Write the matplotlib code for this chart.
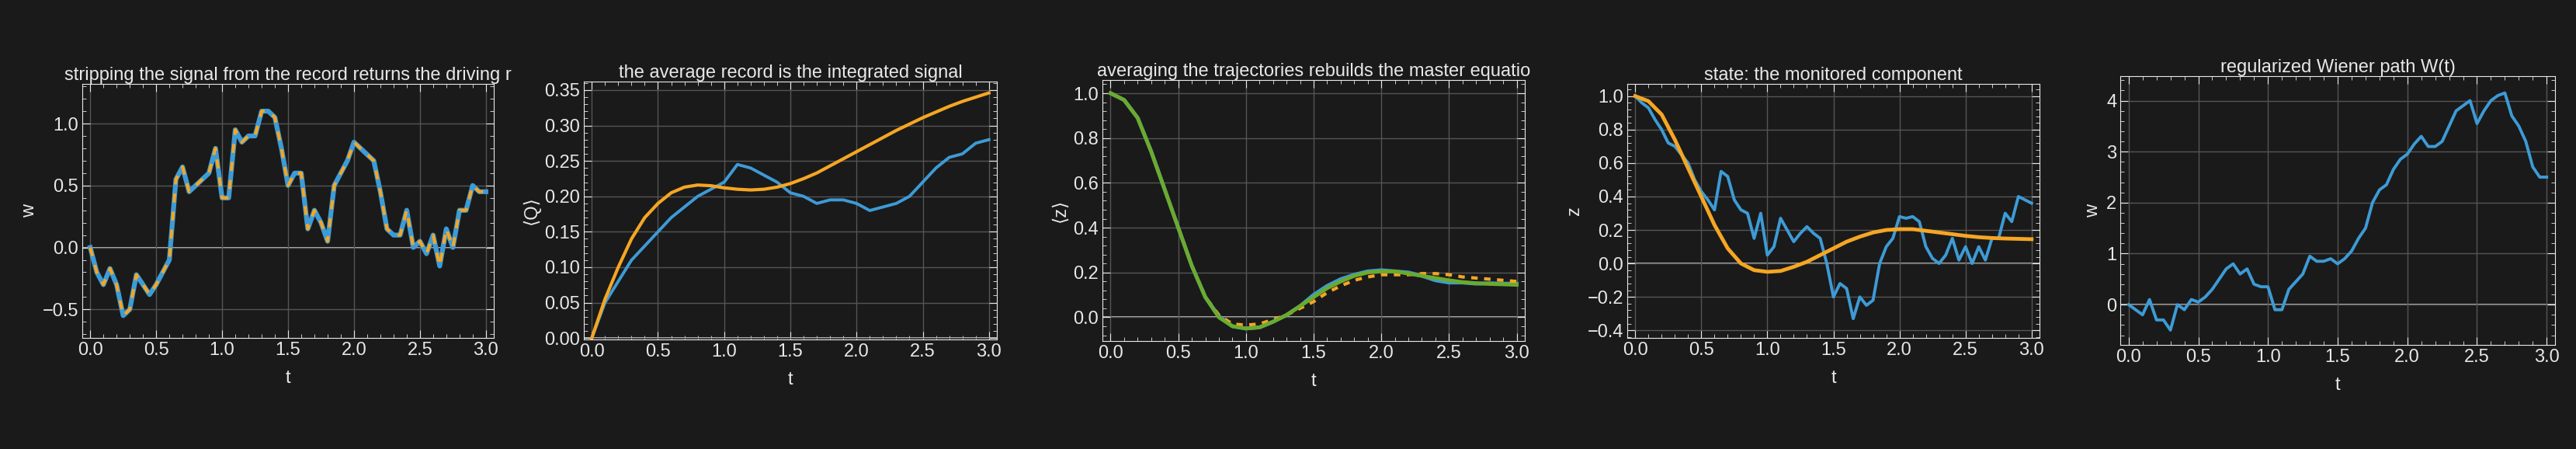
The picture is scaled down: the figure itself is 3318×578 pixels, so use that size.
import numpy as np
import matplotlib
matplotlib.use("Agg")
import matplotlib.pyplot as plt
from matplotlib.ticker import AutoMinorLocator

t = np.round(np.arange(0, 3.0001, 0.05), 2)

w1 = [0, -0.2, -0.3, -0.17, -0.3, -0.55, -0.5, -0.22, -0.3, -0.38, -0.3, -0.2, -0.1, 0.55, 0.65, 0.45,
      0.5, 0.55, 0.6, 0.8, 0.4, 0.4, 0.95, 0.85, 0.9, 0.9, 1.1, 1.1, 1.05, 0.8, 0.5, 0.6, 0.6, 0.15,
      0.3, 0.2, 0.05, 0.5, 0.6, 0.7, 0.85, 0.8, 0.75, 0.7, 0.45, 0.15, 0.1, 0.1, 0.3, 0.0, 0.05, -0.05,
      0.1, -0.15, 0.15, 0.0, 0.3, 0.3, 0.5, 0.45, 0.45]

t2 = [0, 0.1, 0.2, 0.3, 0.4, 0.5, 0.6, 0.7, 0.8, 0.9, 1.0, 1.1, 1.2, 1.3, 1.4, 1.5, 1.6, 1.7, 1.8, 1.9,
      2.0, 2.1, 2.2, 2.3, 2.4, 2.5, 2.6, 2.7, 2.8, 2.9, 3.0]
q_mean = [0, 0.055, 0.1, 0.14, 0.17, 0.19, 0.205, 0.213, 0.216, 0.215, 0.212, 0.21, 0.209, 0.21, 0.213,
          0.218, 0.225, 0.233, 0.243, 0.253, 0.263, 0.273, 0.283, 0.293, 0.302, 0.311, 0.319, 0.327,
          0.334, 0.34, 0.346]
q_rec = [0, 0.05, 0.08, 0.11, 0.13, 0.15, 0.17, 0.185, 0.2, 0.21, 0.22, 0.245, 0.24, 0.23, 0.22, 0.205,
         0.2, 0.19, 0.195, 0.195, 0.19, 0.18, 0.185, 0.19, 0.2, 0.22, 0.24, 0.255, 0.26, 0.275, 0.28]

z_me = [1.0, 0.97, 0.89, 0.74, 0.57, 0.4, 0.23, 0.09, 0.0, -0.04, -0.05, -0.045, -0.02, 0.01, 0.05,
        0.09, 0.13, 0.16, 0.185, 0.2, 0.205, 0.205, 0.195, 0.185, 0.175, 0.165, 0.157, 0.152, 0.149,
        0.147, 0.145]
z_avg = [1.0, 0.97, 0.89, 0.74, 0.57, 0.4, 0.23, 0.09, 0.005, -0.04, -0.05, -0.045, -0.02, 0.01, 0.05,
         0.1, 0.14, 0.17, 0.19, 0.205, 0.21, 0.205, 0.2, 0.185, 0.165, 0.155, 0.155, 0.15, 0.152,
         0.15, 0.15]
z_dash = [1.0, 0.97, 0.89, 0.74, 0.57, 0.4, 0.23, 0.09, 0.01, -0.03, -0.035, -0.03, -0.01, 0.01, 0.04,
          0.07, 0.11, 0.14, 0.165, 0.18, 0.19, 0.19, 0.19, 0.195, 0.195, 0.19, 0.18, 0.175, 0.17,
          0.165, 0.16]

z_traj = [1.0, 0.96, 0.93, 0.86, 0.8, 0.72, 0.7, 0.65, 0.6, 0.5, 0.43, 0.38, 0.32, 0.55, 0.52, 0.38,
          0.32, 0.3, 0.15, 0.3, 0.05, 0.1, 0.27, 0.2, 0.13, 0.18, 0.22, 0.18, 0.15, 0.0, -0.2, -0.12,
          -0.15, -0.33, -0.2, -0.25, -0.22, 0.0, 0.1, 0.15, 0.28, 0.27, 0.28, 0.25, 0.1, 0.03, 0.0, 0.05,
          0.15, 0.02, 0.1, 0.0, 0.1, 0.02, 0.15, 0.15, 0.3, 0.25, 0.4, 0.38, 0.36]

w5 = [0, -0.1, -0.2, 0.1, -0.3, -0.3, -0.5, 0.0, -0.1, 0.1, 0.05, 0.15, 0.3, 0.5, 0.7, 0.8, 0.6, 0.7,
      0.4, 0.35, 0.35, -0.1, -0.1, 0.3, 0.45, 0.6, 0.95, 0.85, 0.85, 0.9, 0.8, 0.9, 1.05, 1.3, 1.5, 2.0,
      2.25, 2.35, 2.65, 2.85, 2.95, 3.15, 3.3, 3.1, 3.1, 3.2, 3.5, 3.8, 3.9, 4.0, 3.55, 3.8, 4.0, 4.1,
      4.15, 3.7, 3.5, 3.2, 2.7, 2.5, 2.5]

BG = "#1a1a1a"
BLUE = "#3d9bd6"
ORANGE = "#f5a623"
GREEN = "#6aab2e"
FG = "#e8e8e8"
FS = 17

plt.rcParams['font.family'] = ['Liberation Sans', 'DejaVu Sans']
fig = plt.figure(figsize=(33.18, 5.78), dpi=100, facecolor=BG)
W, H = 3318, 578

def mk(l, r, top, bot):
    return fig.add_axes([l / W, 1 - bot / H, (r - l) / W, (bot - top) / H])

boxes = [(106, 636, 108, 435), (752, 1284, 105, 437), (1420, 1964, 103, 439),
         (2096, 2627, 108, 435), (2731, 3291, 98, 444)]
axs = [mk(*b) for b in boxes]

for ax in axs:
    ax.set_facecolor(BG)
    for s in ax.spines.values():
        s.set_color(FG)
    ax.tick_params(which='both', direction='in', top=True, right=True, colors=FG,
                   labelsize=FS, labelcolor=FG)
    ax.tick_params(which='major', length=7)
    ax.tick_params(which='minor', length=3.5)
    ax.xaxis.set_minor_locator(AutoMinorLocator(5))
    ax.yaxis.set_minor_locator(AutoMinorLocator(5))
    ax.grid(True, color="#555555", lw=1)
    ax.set_xlim(-0.06, 3.06)
    ax.set_xticks([0, 0.5, 1.0, 1.5, 2.0, 2.5, 3.0])
    ax.set_xlabel("t", color=FG, fontsize=FS, labelpad=10)
    ax.axhline(0, color="#dddddd", lw=1.2, zorder=1)

ax = axs[0]
ax.plot(t, w1, color=BLUE, lw=4.5)
ax.plot(t, w1, color=ORANGE, lw=2.8, ls=(0, (3, 3)))
ax.set_ylim(-0.73, 1.32)
ax.set_yticks([-0.5, 0, 0.5, 1.0])
ax.set_ylabel("w", color=FG, fontsize=FS)
ax.set_title("stripping the signal from the record returns the driving r", color=FG, fontsize=FS, pad=3)

ax = axs[1]
ax.plot(t2, q_rec, color=BLUE, lw=2.8)
ax.plot(t2, q_mean, color=ORANGE, lw=3)
ax.set_ylim(-0.002, 0.362)
ax.set_yticks(np.arange(0, 0.351, 0.05))
ax.set_ylabel("⟨Q⟩", color=FG, fontsize=FS)
ax.set_title("the average record is the integrated signal", color=FG, fontsize=FS, pad=3)

ax = axs[2]
ax.plot(t2, z_avg, color=BLUE, lw=3.5)
ax.plot(t2, z_dash, color=ORANGE, lw=3, ls=(0, (2, 2)))
ax.plot(t2, z_me, color=GREEN, lw=3.5)
ax.set_ylim(-0.106, 1.059)
ax.set_yticks([0, 0.2, 0.4, 0.6, 0.8, 1.0])
ax.set_ylabel("⟨z⟩", color=FG, fontsize=FS)
ax.set_title("averaging the trajectories rebuilds the master equatio", color=FG, fontsize=FS, pad=3)

ax = axs[3]
ax.plot(t, z_traj, color=BLUE, lw=2.8)
ax.plot(t2, z_me, color=ORANGE, lw=3.5)
ax.set_ylim(-0.445, 1.073)
ax.set_yticks([-0.4, -0.2, 0, 0.2, 0.4, 0.6, 0.8, 1.0])
ax.set_ylabel("z", color=FG, fontsize=FS)
ax.set_title("state: the monitored component", color=FG, fontsize=FS, pad=3)

ax = axs[4]
ax.plot(t, w5, color=BLUE, lw=2.8)
ax.set_ylim(-0.79, 4.48)
ax.set_yticks([0, 1, 2, 3, 4])
ax.set_ylabel("w", color=FG, fontsize=FS)
ax.set_title("regularized Wiener path W(t)", color=FG, fontsize=FS, pad=3)

fig.savefig("out.png", dpi=100, facecolor=BG)
